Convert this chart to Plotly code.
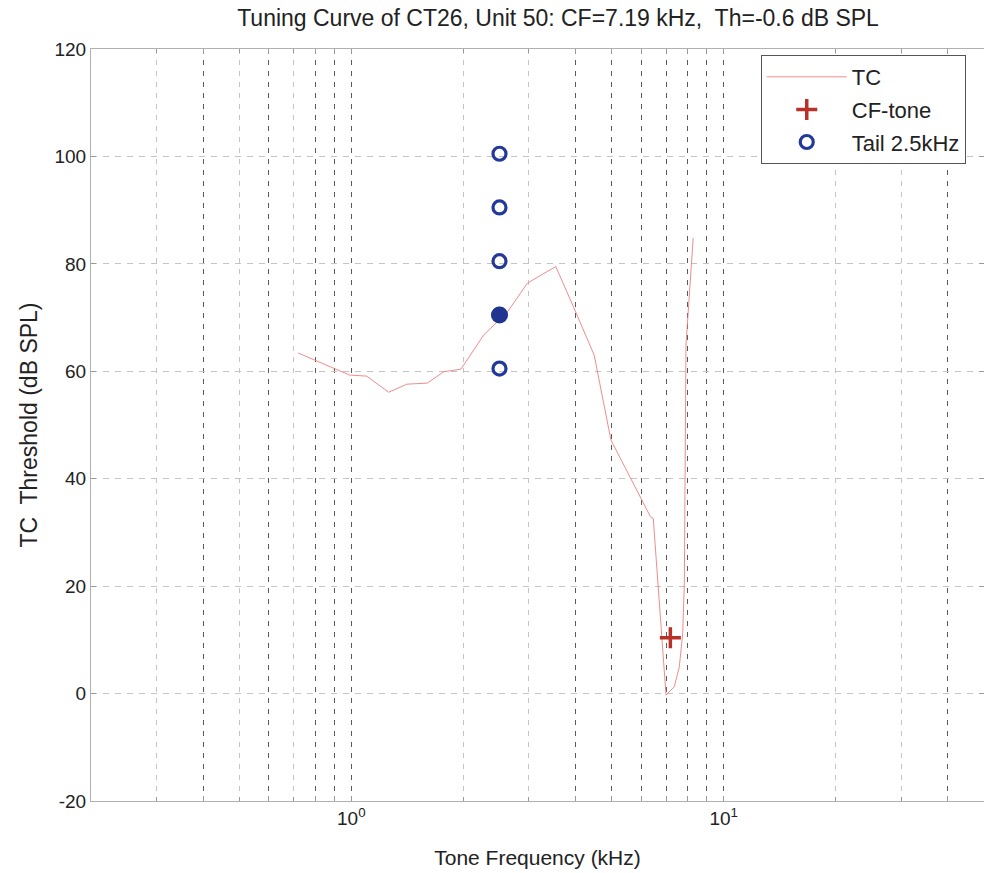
import plotly.graph_objects as go

# ---- data ----
tc_freq = [0.72, 0.99, 1.10, 1.26, 1.41, 1.60, 1.77, 1.97, 2.27, 2.63, 2.97, 3.54,
           3.95, 4.49, 4.98, 6.36, 6.47, 7.00, 7.37, 7.60, 7.76, 7.84, 7.92, 8.28]
tc_thr = [63.4, 59.3, 59.1, 56.1, 57.6, 57.8, 59.9, 60.4, 66.8, 71.1, 76.4, 79.5,
          72.0, 63.0, 47.2, 32.9, 32.6, -0.3, 1.3, 5.0, 11.2, 20.6, 64.9, 84.8]

cf_freq = [7.19]
cf_level = [10.4]

tail_freq = [2.5, 2.5, 2.5, 2.5, 2.5]
tail_level = [60.5, 70.5, 80.5, 90.5, 100.5]
tail_sel_freq = [2.5]
tail_sel_level = [70.5]

x_dark_grid = [0.4, 0.6, 0.8, 0.9, 1, 4, 5, 6, 7, 8, 9, 10, 40]
x_tick_text = ["", "", "", "", "10<sup>0</sup>", "", "", "", "", "", "", "10<sup>1</sup>", ""]
x_light_grid = [0.3, 0.5, 0.7, 2, 3, 20, 30]
y_ticks = [-20, 0, 20, 40, 60, 80, 100, 120]
y_tick_text = ["-20", "0", "20", "40", "60", "80", "100", "120"]

FONT = "Liberation Sans, Arial, sans-serif"
BLUE = "#23399a"

fig = go.Figure()
fig.add_trace(go.Scatter(
    x=tc_freq, y=tc_thr, mode="lines", name="TC", legendgroup="a",
    line=dict(color="rgba(236,120,120,0.85)", width=1)))
fig.add_trace(go.Scatter(
    x=cf_freq, y=cf_level, mode="markers", name="CF-tone", legendgroup="b",
    marker=dict(symbol="cross-thin", size=15, color="#b8322a",
                line=dict(color="#b8322a", width=3.5))))
fig.add_trace(go.Scatter(
    x=tail_freq, y=tail_level, mode="markers", name="Tail 2.5kHz", legendgroup="c",
    marker=dict(symbol="circle-open", size=13, color=BLUE,
                line=dict(color=BLUE, width=3.2))))
fig.add_trace(go.Scatter(
    x=tail_sel_freq, y=tail_sel_level, mode="markers", showlegend=False,
    marker=dict(symbol="circle", size=17, color="#1f3590")))

fig.update_layout(
    width=984, height=873,
    margin=dict(l=91, r=0, t=49, b=72),
    paper_bgcolor="white", plot_bgcolor="white",
    font=dict(family=FONT, size=20, color="#222"),
    title=dict(text="Tuning Curve of CT26, Unit 50: CF=7.19 kHz,  Th=-0.6 dB SPL",
               x=0.523, xref="paper", xanchor="center", y=0.979, yanchor="middle",
               font=dict(family=FONT, size=23, color="#222")),
    showlegend=True,
    legend=dict(x=0.75, y=0.992, xanchor="left", yanchor="top",
                bgcolor="white", bordercolor="#555", borderwidth=1,
                font=dict(family=FONT, size=22, color="#222"),
                traceorder="grouped", tracegroupgap=1, itemwidth=80),
    xaxis=dict(
        type="log", range=[-0.69897, 1.69897],
        tickvals=x_dark_grid, ticktext=x_tick_text,
        showgrid=True, gridcolor="#5a5a5a", griddash="5px,6px", gridwidth=1,
        minor=dict(tickmode="array", tickvals=x_light_grid, showgrid=True,
                   gridcolor="#c4c4c4", griddash="5px,6px", gridwidth=1,
                   ticks="inside", ticklen=4, tickcolor="#999"),
        ticks="inside", ticklen=5, tickcolor="#999",
        showline=True, linecolor="#b0b0b0", linewidth=1, mirror="ticks",
        zeroline=False,
        tickfont=dict(family=FONT, size=19, color="#222"),
        title=dict(text="Tone Frequency (kHz)", standoff=22,
                   font=dict(family=FONT, size=21, color="#222")),
    ),
    yaxis=dict(
        range=[-20, 120], tickvals=y_ticks, ticktext=y_tick_text,
        showgrid=True, gridcolor="#c4c4c4", griddash="6px,6px", gridwidth=1,
        ticks="inside", ticklen=5, tickcolor="#999",
        showline=True, linecolor="#b0b0b0", linewidth=1, mirror="ticks",
        zeroline=False,
        tickfont=dict(family=FONT, size=19, color="#222"),
        title=dict(text="TC  Threshold (dB SPL)", standoff=10,
                   font=dict(family=FONT, size=23, color="#222")),
    ),
)

fig.write_html("out.html")
